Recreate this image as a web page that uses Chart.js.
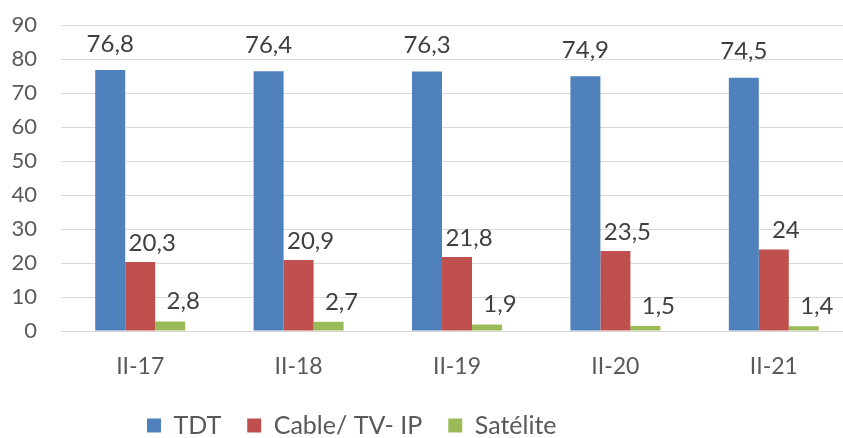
<!DOCTYPE html>
<html>
<head>
<meta charset="utf-8">
<script src="https://cdn.jsdelivr.net/npm/chart.js@4/dist/chart.umd.min.js"></script>
<style>
html,body{margin:0;padding:0;background:#fff;overflow:hidden;}
#wrap{width:870px;height:438px;}
</style>
</head>
<body>
<div id="wrap"><canvas id="c" width="870" height="438"></canvas></div>
<script>
const categories = ["II-17", "II-18", "II-19", "II-20", "II-21"];
const seriesNames = ["TDT", "Cable/ TV- IP", "Satélite"];
const tdt = [76.8, 76.4, 76.3, 74.9, 74.5];
const cable = [20.3, 20.9, 21.8, 23.5, 24];
const satelite = [2.8, 2.7, 1.9, 1.5, 1.4];
const yTicks = [0, 10, 20, 30, 40, 50, 60, 70, 80, 90];

const colors = ["#4F81BD", "#C0504D", "#9BBB59"];
const FONT = "Lato, 'Open Sans', sans-serif";

const labelOffsets = [ {dx: 0, dy: -26}, {dx: 12, dy: -19}, {dx: 13, dy: -20} ];

const dataLabels = {
  id: 'dataLabels',
  afterDatasetsDraw(chart) {
    const ctx = chart.ctx;
    ctx.save();
    ctx.font = "24px " + FONT;
    ctx.fillStyle = "#404040";
    ctx.textAlign = "center";
    ctx.textBaseline = "middle";
    chart.data.datasets.forEach((ds, i) => {
      const meta = chart.getDatasetMeta(i);
      meta.data.forEach((el, j) => {
        const txt = String(ds.data[j]).replace('.', ',');
        ctx.fillText(txt, el.x + labelOffsets[i].dx, el.y + labelOffsets[i].dy);
      });
    });
    ctx.restore();
  }
};

const legendPlace = {
  id: 'legendPlace',
  afterLayout(chart) {
    const lg = chart.legend;
    if (!lg) return;
    const h = lg.bottom - lg.top;
    lg.left = 147 - 26;
    lg.top = 387;
    lg.bottom = lg.top + h;
  }
};

new Chart(document.getElementById('c'), {
  type: 'bar',
  data: {
    labels: categories,
    datasets: [
      { label: seriesNames[0], data: tdt, backgroundColor: colors[0] },
      { label: seriesNames[1], data: cable, backgroundColor: colors[1] },
      { label: seriesNames[2], data: satelite, backgroundColor: colors[2] }
    ]
  },
  options: {
    responsive: false,
    animation: false,
    devicePixelRatio: 1,
    layout: { padding: { top: 25, right: 17, left: 0, bottom: 0 } },
    datasets: { bar: { categoryPercentage: 0.568, barPercentage: 1.0 } },
    plugins: {
      tooltip: { enabled: false },
      legend: {
        position: 'bottom',
        align: 'start',
        labels: {
          font: { family: FONT, size: 25 },
          color: '#595959',
          boxWidth: 14,
          boxHeight: 14,
          padding: 26
        }
      }
    },
    scales: {
      x: {
        grid: { display: false, drawTicks: false },
        border: { display: true, color: '#D9D9D9', width: 1 },
        ticks: { font: { family: FONT, size: 23 }, color: '#595959', padding: 22 },
        afterFit(s) { s.height = 46; }
      },
      y: {
        min: 0, max: 90,
        afterBuildTicks(s) { s.ticks = yTicks.map(v => ({ value: v })); },
        grid: { color: '#D9D9D9', drawTicks: false, lineWidth: 1 },
        border: { display: false },
        ticks: { font: { family: FONT, size: 22 }, color: '#595959', padding: 24 },
        afterFit(s) { s.width = 61; s.paddingTop = 0; s.paddingBottom = 0; }
      }
    }
  },
  plugins: [dataLabels, legendPlace]
});
</script>
</body>
</html>
